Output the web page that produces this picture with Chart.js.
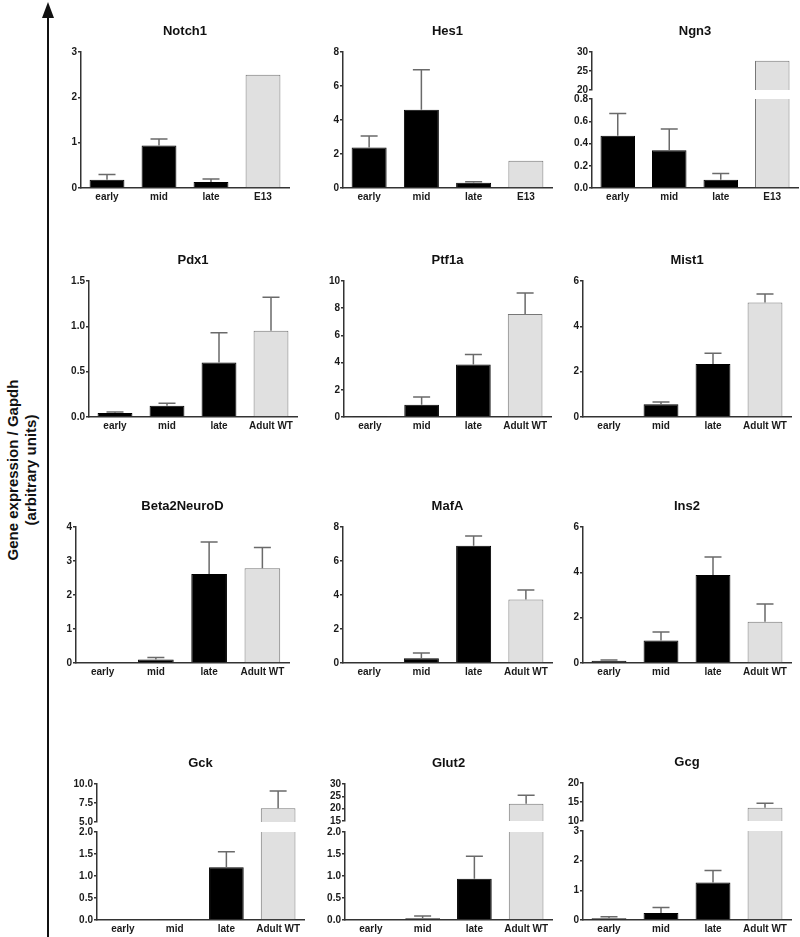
<!DOCTYPE html>
<html>
<head>
<meta charset="utf-8">
<script src="https://cdn.jsdelivr.net/npm/chart.js@4/dist/chart.umd.min.js"></script>
<style>
html, body { margin:0; padding:0; background:#fff; }
body { width:800px; height:937px; overflow:hidden; position:relative; font-family:"Liberation Sans", Arial, sans-serif; }
canvas { position:absolute; }
#axisLine { position:absolute; left:47px; top:16px; width:2px; height:921px; background:#111; }
#arrowHead { position:absolute; left:42px; top:2px; width:0; height:0; border-left:6px solid transparent; border-right:6px solid transparent; border-bottom:16px solid #111; }
#yLabel { position:absolute; left:-128px; top:450px; width:300px; height:40px; transform:rotate(-90deg); transform-origin:50% 50%; text-align:center; font-size:15px; font-weight:bold; line-height:18px; color:#111; padding-top:2px; box-sizing:border-box; }
</style>
</head>
<body>
<div id="axisLine"></div>
<div id="arrowHead"></div>
<div id="yLabel">Gene expression / Gapdh<br>(arbitrary units)</div>
<script>
// ---------- DATA ----------
const labelsE13   = ['early', 'mid', 'late', 'E13'];
const labelsAdult = ['early', 'mid', 'late', 'Adult WT'];

const notch1Mean = [0.18, 0.94, 0.13, 2.50];
const notch1Sem  = [0.12, 0.14, 0.07, 0];
const notch1Ticks = [0, 1, 2, 3];

const hes1Mean = [2.38, 4.60, 0.31, 1.60];
const hes1Sem  = [0.68, 2.36, 0.06, 0];
const hes1Ticks = [0, 2, 4, 6, 8];

const ngn3Mean = [0.47, 0.34, 0.075, 27.7];
const ngn3Sem  = [0.20, 0.19, 0.055, 0];
const ngn3TicksHigh = [20, 25, 30];
const ngn3TicksLow  = [0, 0.2, 0.4, 0.6, 0.8];

const pdx1Mean = [0.044, 0.125, 0.60, 0.95];
const pdx1Sem  = [0.011, 0.026, 0.33, 0.37];
const pdx1Ticks = [0, 0.5, 1.0, 1.5];

const ptf1aMean = [0.03, 0.90, 3.86, 7.58];
const ptf1aSem  = [0, 0.57, 0.74, 1.54];
const ptf1aTicks = [0, 2, 4, 6, 8, 10];

const mist1Mean = [0.03, 0.56, 2.34, 5.05];
const mist1Sem  = [0, 0.10, 0.47, 0.38];
const mist1Ticks = [0, 2, 4, 6];

const beta2Mean = [0.02, 0.10, 2.62, 2.79];
const beta2Sem  = [0, 0.06, 0.94, 0.61];
const beta2Ticks = [0, 1, 2, 3, 4];

const mafaMean = [0, 0.28, 6.90, 3.74];
const mafaSem  = [0, 0.31, 0.57, 0.56];
const mafaTicks = [0, 2, 4, 6, 8];

const ins2Mean = [0.10, 0.99, 3.88, 1.82];
const ins2Sem  = [0.03, 0.38, 0.80, 0.78];
const ins2Ticks = [0, 2, 4, 6];

const gckMean = [0, 0.02, 1.20, 6.80];
const gckSem  = [0, 0, 0.35, 2.28];
const gckTicksHigh = [5, 7.5, 10];
const gckTicksLow  = [0, 0.5, 1.0, 1.5, 2.0];

const glut2Mean = [0, 0.04, 0.94, 21.95];
const glut2Sem  = [0, 0.05, 0.51, 3.45];
const glut2TicksHigh = [15, 20, 25, 30];
const glut2TicksLow  = [0, 0.5, 1.0, 1.5, 2.0];

const gcgMean = [0.056, 0.24, 1.26, 13.5];
const gcgSem  = [0.054, 0.18, 0.41, 1.15];
const gcgTicksHigh = [10, 15, 20];
const gcgTicksLow  = [0, 1, 2, 3];

// ---------- STYLE ----------
const FAMILY = '"Liberation Sans", Arial, Helvetica, sans-serif';
const AXIS = '#333';
const TEXT = '#1a1a1a';
const FILLS = ['#000', '#000', '#000', '#e0e0e0'];
const EDGES = ['#000', '#000', '#000', '#777'];
const LW = 40, TH = 40, BH = 20, PR = 4, PAD = 8;

Chart.defaults.font.family = FAMILY;

const errorBars = {
  id: 'errorBars',
  afterDatasetsDraw(chart) {
    const ctx = chart.ctx, y = chart.scales.y;
    chart.data.datasets.forEach((ds, di) => {
      const meta = chart.getDatasetMeta(di);
      meta.data.forEach((bar, i) => {
        const v = ds.data[i], e = ds.errors[i];
        if (!e || v < y.min || v > y.max) return;
        const p0 = y.getPixelForValue(v), p1 = y.getPixelForValue(v + e);
        ctx.save();
        ctx.strokeStyle = '#6a6a6a';
        ctx.lineWidth = 1.5;
        ctx.beginPath();
        ctx.moveTo(bar.x, p0); ctx.lineTo(bar.x, p1);
        ctx.moveTo(bar.x - 8.5, p1); ctx.lineTo(bar.x + 8.5, p1);
        ctx.stroke();
        ctx.restore();
      });
    });
  }
};

function addChart(p) {
  const cv = document.createElement('canvas');
  const topInset = p.title ? TH : PAD;
  const botInset = p.showX ? BH : PAD;
  const W = p.right - p.ax + LW + PR;
  const H = p.bottom - p.top + topInset + botInset;
  cv.width = W; cv.height = H;
  cv.style.left = (p.ax - LW) + 'px';
  cv.style.top = (p.top - topInset) + 'px';
  cv.style.width = W + 'px'; cv.style.height = H + 'px';
  document.body.appendChild(cv);
  const ticks = p.ticks;
  new Chart(cv, {
    type: 'bar',
    data: {
      labels: p.labels,
      datasets: [{
        data: p.mean,
        errors: p.sem,
        backgroundColor: FILLS,
        borderColor: EDGES,
        borderWidth: 1,
        categoryPercentage: 0.67,
        barPercentage: 1,
        clip: 0
      }]
    },
    options: {
      responsive: false,
      animation: false,
      devicePixelRatio: 1,
      layout: { padding: { top: p.title ? 0 : PAD, right: PR, bottom: p.showX ? 0 : PAD, left: 0 } },
      plugins: {
        legend: { display: false },
        tooltip: { enabled: false },
        title: p.title ? {
          display: true, text: p.title, fullSize: false, color: '#111',
          font: { size: 13, weight: 'bold', family: FAMILY },
          padding: { top: 12, bottom: 12.4 }
        } : { display: false }
      },
      scales: {
        x: {
          display: p.showX,
          grid: { display: false, drawTicks: false },
          border: { display: true, color: AXIS, width: 1.5 },
          ticks: { color: TEXT, padding: 3, font: { size: 10, weight: 'bold', family: FAMILY } },
          afterFit: s => { if (p.showX) s.height = BH; }
        },
        y: {
          min: ticks[0],
          max: ticks[ticks.length - 1],
          afterBuildTicks: s => { s.ticks = ticks.map(v => ({ value: v })); },
          ticks: {
            color: TEXT, padding: 1, autoSkip: false,
            font: { size: 10, weight: 'bold', family: FAMILY },
            callback: v => Number(v).toFixed(p.dec)
          },
          grid: { display: true, drawOnChartArea: false, drawTicks: true, tickLength: 3, color: AXIS, lineWidth: 1.5 },
          border: { display: true, color: AXIS, width: 1.5 },
          afterFit: s => { s.width = LW; }
        }
      }
    },
    plugins: [errorBars]
  });
}

function panel(p) {
  addChart({ title: p.title, labels: p.labels, mean: p.mean, sem: p.sem, ticks: p.ticks, dec: p.dec,
             ax: p.ax, right: p.right, top: p.top, bottom: p.bottom, showX: true });
}
function brokenPanel(p) {
  addChart({ title: p.title, labels: p.labels, mean: p.mean, sem: p.sem, ticks: p.hiTicks, dec: p.hiDec,
             ax: p.ax, right: p.right, top: p.hiTop, bottom: p.hiBottom, showX: false });
  addChart({ title: null, labels: p.labels, mean: p.mean, sem: p.sem, ticks: p.loTicks, dec: p.loDec,
             ax: p.ax, right: p.right, top: p.loTop, bottom: p.bottom, showX: true });
}

// Row 1
panel({ title: 'Notch1', labels: labelsE13, mean: notch1Mean, sem: notch1Sem, ticks: notch1Ticks, dec: 0, ax: 81, right: 289, top: 52, bottom: 188 });
panel({ title: 'Hes1', labels: labelsE13, mean: hes1Mean, sem: hes1Sem, ticks: hes1Ticks, dec: 0, ax: 343, right: 552, top: 52, bottom: 188 });
brokenPanel({ title: 'Ngn3', labels: labelsE13, mean: ngn3Mean, sem: ngn3Sem, hiTicks: ngn3TicksHigh, hiDec: 0, loTicks: ngn3TicksLow, loDec: 1,
              ax: 592, right: 798, hiTop: 52, hiBottom: 90, loTop: 99, bottom: 188 });
// Row 2
panel({ title: 'Pdx1', labels: labelsAdult, mean: pdx1Mean, sem: pdx1Sem, ticks: pdx1Ticks, dec: 1, ax: 89, right: 297, top: 281, bottom: 417 });
panel({ title: 'Ptf1a', labels: labelsAdult, mean: ptf1aMean, sem: ptf1aSem, ticks: ptf1aTicks, dec: 0, ax: 344, right: 551, top: 281, bottom: 417 });
panel({ title: 'Mist1', labels: labelsAdult, mean: mist1Mean, sem: mist1Sem, ticks: mist1Ticks, dec: 0, ax: 583, right: 791, top: 281, bottom: 417 });
// Row 3
panel({ title: 'Beta2NeuroD', labels: labelsAdult, mean: beta2Mean, sem: beta2Sem, ticks: beta2Ticks, dec: 0, ax: 76, right: 289, top: 527, bottom: 663 });
panel({ title: 'MafA', labels: labelsAdult, mean: mafaMean, sem: mafaSem, ticks: mafaTicks, dec: 0, ax: 343, right: 552, top: 527, bottom: 663 });
panel({ title: 'Ins2', labels: labelsAdult, mean: ins2Mean, sem: ins2Sem, ticks: ins2Ticks, dec: 0, ax: 583, right: 791, top: 527, bottom: 663 });
// Row 4
brokenPanel({ title: 'Gck', labels: labelsAdult, mean: gckMean, sem: gckSem, hiTicks: gckTicksHigh, hiDec: 1, loTicks: gckTicksLow, loDec: 1,
              ax: 97, right: 304, hiTop: 784, hiBottom: 822, loTop: 832, bottom: 920 });
brokenPanel({ title: 'Glut2', labels: labelsAdult, mean: glut2Mean, sem: glut2Sem, hiTicks: glut2TicksHigh, hiDec: 0, loTicks: glut2TicksLow, loDec: 1,
              ax: 345, right: 552, hiTop: 784, hiBottom: 821, loTop: 832, bottom: 920 });
brokenPanel({ title: 'Gcg', labels: labelsAdult, mean: gcgMean, sem: gcgSem, hiTicks: gcgTicksHigh, hiDec: 0, loTicks: gcgTicksLow, loDec: 0,
              ax: 583, right: 791, hiTop: 783, hiBottom: 821, loTop: 831, bottom: 920 });
</script>
</body>
</html>
